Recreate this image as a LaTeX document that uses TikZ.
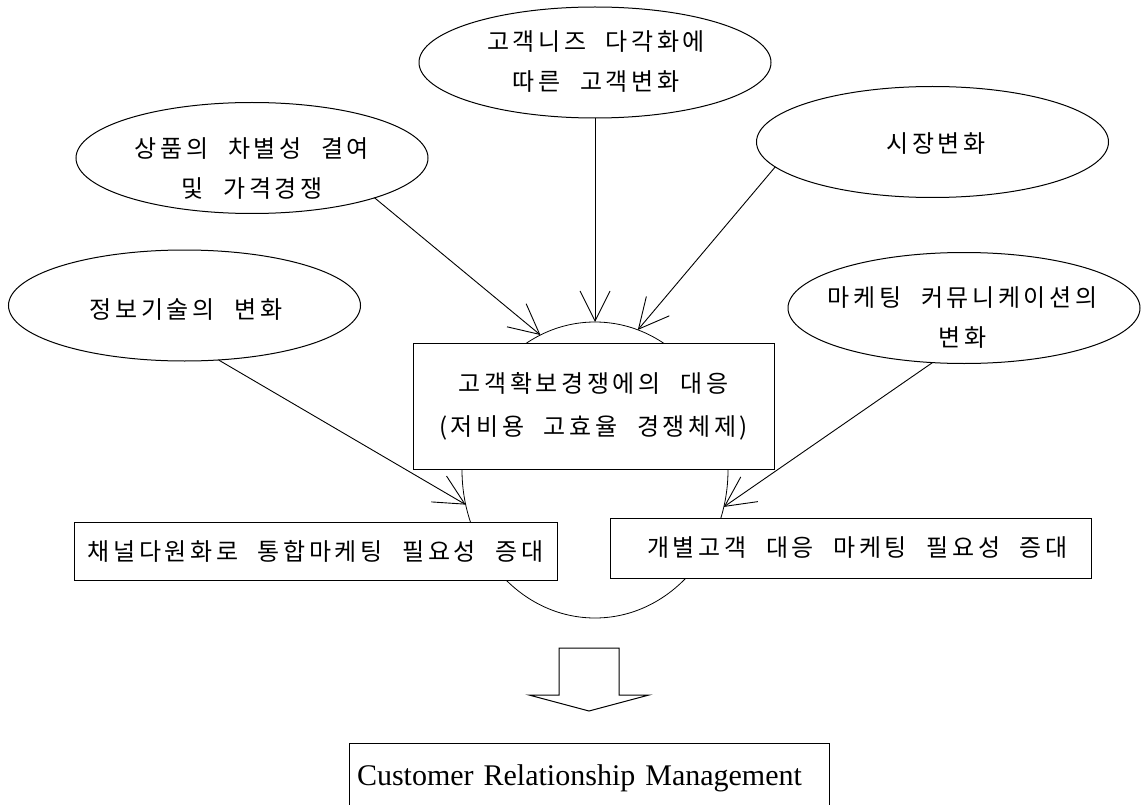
\documentclass[tikz,border=0pt]{standalone}
\usepackage{fontspec}
\newfontfamily\krfont[LetterSpace=15,WordSpace=2.2]{Noto Sans CJK KR}
\newfontfamily\crmfont[WordSpace=2.9]{Liberation Serif}
\usetikzlibrary{shapes.geometric,arrows.meta}
\begin{document}
\begin{tikzpicture}[x=1pt,y=-1pt,
  every node/.style={inner sep=0pt,outer sep=0pt},
  ell/.style={ellipse,draw,line width=1pt,minimum width=352pt,minimum height=111pt},
  lbl/.style={align=center,font=\krfont\fontsize{24}{40}\selectfont},
  boxk/.style={rectangle,draw,fill=white,line width=1pt,align=center,font=\krfont\fontsize{24}{43}\selectfont},
  ringstyle/.style={ellipse,draw,line width=0.8pt,minimum width=266pt,minimum height=296pt},
  arr/.style={line width=0.9pt,-{Straight Barb[length=30pt,width=30pt,line width=0.9pt]}},
  blockarr/.style={draw,fill=white,line width=1pt,line join=miter}
]
\useasboundingbox (0,0) rectangle (1148,805);
\clip (0,0) rectangle (1148,805);

% background ring
\node[ringstyle] (ring) at (595,470) {};

% ellipses
\node[ell] (A) at (595,62.5) {};
\node[lbl] (At) at (596,62) {고객니즈 다각화에\\따른 고객변화};
\node[ell] (B) at (252,158) {};
\node[lbl] (Bt) at (252,169) {상품의 차별성 결여\\및 가격경쟁};
\node[ell] (C) at (932.5,142) {};
\node[lbl] (Ct) at (936,144) {시장변화};
\node[ell] (D) at (184.5,305.5) {};
\node[lbl] (Dt) at (186,310) {정보기술의 변화};
\node[ell] (E) at (964,308) {};
\node[lbl] (Et) at (962.5,318) {마케팅 커뮤니케이션의\\변화};

% boxes
\node[boxk,minimum width=361pt,minimum height=126pt] (M) at (593.5,406) {고객확보경쟁에의 대응\\(저비용 고효율 경쟁체제)};
\node[boxk,minimum width=483pt,minimum height=58pt] (L) at (315.5,551) {채널다원화로 통합마케팅 필요성 증대};
\node[boxk,minimum width=481pt,minimum height=60pt] (R) at (850.5,548) {\hspace{14pt}개별고객 대응 마케팅 필요성 증대};

% arrows
\draw[arr] (A) -- (ring);
\draw[arr] (B.-18.3) -- (ring.112.5);
\draw[arr] (C.189) -- (ring.73.2);
\draw[arr] (D.-58.1) -- (ring.195.7);
\draw[arr] (E.240.4) -- (ring.-16.2);

% block arrow
\draw[blockarr] (559,648) -- (619,648) -- (619,695) -- (649,695) -- (589,711) -- (529,695) -- (559,695) -- cycle;

% CRM box
\node[rectangle,draw,fill=white,line width=1pt,inner xsep=8pt,text width=464pt,align=left,minimum height=70pt,font=\crmfont\fontsize{30}{36}\selectfont] (CRM) at (589,778) {Customer Relationship Management};
\end{tikzpicture}
\end{document}
